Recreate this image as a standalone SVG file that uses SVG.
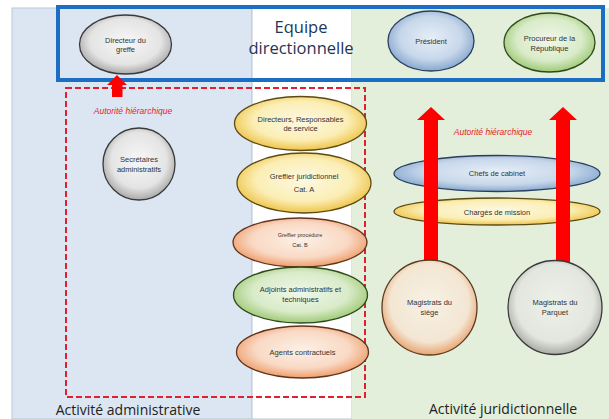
<svg xmlns="http://www.w3.org/2000/svg" width="609" height="419" viewBox="0 0 609 419">
<defs>
<radialGradient id="gGray" cx="50%" cy="45%" r="55%"><stop offset="0" stop-color="#f7f7f7"/><stop offset="0.7" stop-color="#e4e4e4"/><stop offset="1" stop-color="#a9a9a9"/></radialGradient>
<radialGradient id="gYel" cx="50%" cy="45%" r="55%"><stop offset="0" stop-color="#fdf8e2"/><stop offset="0.65" stop-color="#fbeeb5"/><stop offset="1" stop-color="#eec44a"/></radialGradient>
<radialGradient id="gOra" cx="50%" cy="45%" r="55%"><stop offset="0" stop-color="#fdf0e6"/><stop offset="0.65" stop-color="#f9d9c4"/><stop offset="1" stop-color="#ee9e6c"/></radialGradient>
<radialGradient id="gGrn" cx="50%" cy="45%" r="55%"><stop offset="0" stop-color="#f0f7ea"/><stop offset="0.65" stop-color="#d9ebc9"/><stop offset="1" stop-color="#9fca76"/></radialGradient>
<radialGradient id="gBlu" cx="50%" cy="45%" r="55%"><stop offset="0" stop-color="#e6eef7"/><stop offset="0.65" stop-color="#c7d7ea"/><stop offset="1" stop-color="#87a8ce"/></radialGradient>
<radialGradient id="gSiege" cx="50%" cy="45%" r="55%"><stop offset="0" stop-color="#f7f1e4"/><stop offset="0.75" stop-color="#f3e6d3"/><stop offset="1" stop-color="#e8a572"/></radialGradient>
<radialGradient id="gParq" cx="50%" cy="45%" r="55%"><stop offset="0" stop-color="#eef1ea"/><stop offset="0.75" stop-color="#e2e6de"/><stop offset="1" stop-color="#a9aca6"/></radialGradient>
</defs>
<style>
.lbl{font-family:"Liberation Sans",Arial,sans-serif;font-size:7.5px;fill:#333;text-anchor:middle}
.sm{font-size:5.5px}
.big{font-family:"Open Sans","Liberation Sans",sans-serif;font-size:14px;fill:#222;text-anchor:middle}
.eq{font-family:"Open Sans","Liberation Sans",sans-serif;font-size:16.5px;fill:#1f3555;text-anchor:middle}
.auth{font-family:"Liberation Sans",Arial,sans-serif;font-size:8.5px;font-style:italic;fill:#e8202a;text-anchor:middle}
.st{stroke-width:1.3}
.arrow{fill:#ff0000}
</style>
<rect width="609" height="419" fill="#ffffff"/>
<g id="panels">
<rect x="12" y="8" width="240" height="411" fill="#dce6f2" stroke="#b9c7d8" stroke-width="1"/>
<rect x="252" y="8" width="100" height="411" fill="#ffffff" stroke="#b9c7d8" stroke-width="1"/>
<rect x="352" y="8" width="257" height="411" fill="#e3eedb"/>
</g>
<g id="frame">
<rect x="58" y="7" width="545" height="73" fill="none" stroke="#1b6ec2" stroke-width="4"/>
<rect x="66" y="88" width="299" height="309" fill="none" stroke="#e0202f" stroke-width="2" stroke-dasharray="6,3"/>
</g>
<g id="equipe"><text class="eq" x="301" y="33">Equipe</text><text class="eq" x="301" y="54">directionnelle</text></g>
<g id="directeur-greffe"><ellipse cx="125.5" cy="44.5" rx="46" ry="29.5" fill="url(#gGray)" stroke="#3a3a3a" class="st"/><text class="lbl" x="125.5" y="42.5">Directeur du</text><text class="lbl" x="125.5" y="52">greffe</text></g>
<g id="president"><ellipse cx="431" cy="41" rx="43" ry="30" fill="url(#gBlu)" stroke="#2a3f5e" class="st"/><text class="lbl" x="431" y="44">Président</text></g>
<g id="procureur"><ellipse cx="549.5" cy="42.5" rx="45.5" ry="29.5" fill="url(#gGrn)" stroke="#2e4a1c" class="st"/><text class="lbl" x="549.5" y="41">Procureur de la</text><text class="lbl" x="549.5" y="50.5">République</text></g>
<g id="secretaires"><circle cx="139" cy="164" r="36" fill="url(#gGray)" stroke="#3a3a3a" class="st"/><text class="lbl" x="139" y="162">Secrétaires</text><text class="lbl" x="139" y="171.5">administratifs</text></g>
<g id="directeurs"><ellipse cx="300.5" cy="123.5" rx="66" ry="27" fill="url(#gYel)" stroke="#5c4a12" class="st"/><text class="lbl" x="300.5" y="121.5">Directeurs, Responsables</text><text class="lbl" x="300.5" y="131">de service</text></g>
<g id="greffier-juridictionnel"><ellipse cx="304" cy="183" rx="67" ry="30" fill="url(#gYel)" stroke="#5c4a12" class="st"/><text class="lbl" x="304" y="179">Greffier juridictionnel</text><text class="lbl" x="304" y="191.5">Cat. A</text></g>
<g id="greffier-procedure"><ellipse cx="300" cy="242.5" rx="67" ry="24.5" fill="url(#gOra)" stroke="#60331c" class="st"/><text class="lbl sm" x="300" y="237">Greffier procédure</text><text class="lbl sm" x="300" y="247">Cat. B</text></g>
<g id="adjoints"><ellipse cx="300.5" cy="295" rx="67" ry="28" fill="url(#gGrn)" stroke="#2e4a1c" class="st"/><text class="lbl" x="300.5" y="292">Adjoints administratifs et</text><text class="lbl" x="300.5" y="301.5">techniques</text></g>
<g id="agents"><ellipse cx="302.5" cy="352" rx="66" ry="26" fill="url(#gOra)" stroke="#60331c" class="st"/><text class="lbl" x="302.5" y="354.5">Agents contractuels</text></g>
<g id="chefs-cabinet"><ellipse cx="497" cy="173.5" rx="103" ry="18" fill="url(#gBlu)" stroke="#2a3f5e" class="st"/><text class="lbl" x="497" y="176">Chefs de cabinet</text></g>
<g id="charges-mission"><ellipse cx="497" cy="211.5" rx="103" ry="13.5" fill="url(#gYel)" stroke="#5c4a12" class="st"/><text class="lbl" x="497" y="214.5">Chargés de mission</text></g>
<g id="connectors">
<polygon class="arrow" points="117,75 127,85 122.5,85 122.5,97 112,97 112,85 107,85"/>
<polygon class="arrow" points="431,107 445,120 438,120 438,262 424,262 424,120 417,120"/>
<polygon class="arrow" points="563,107 577,120 570,120 570,262 556,262 556,120 549,120"/>
</g>
<g id="auth-labels"><text class="auth" x="133" y="114">Autorité hiérarchique</text><text class="auth" x="493" y="135">Autorité hiérarchique</text></g>
<g id="magistrats-siege"><circle cx="429.5" cy="307.5" r="47.5" fill="url(#gSiege)" stroke="#5a3a20" class="st"/><text class="lbl" x="429.5" y="305">Magistrats du</text><text class="lbl" x="429.5" y="314.5">siège</text></g>
<g id="magistrats-parquet"><circle cx="555" cy="307.5" r="47" fill="url(#gParq)" stroke="#3a3a3a" class="st"/><text class="lbl" x="555" y="305">Magistrats du</text><text class="lbl" x="555" y="314.5">Parquet</text></g>
<g id="footer"><text class="big" x="128" y="415">Activité administrative</text><text class="big" x="503" y="414">Activité juridictionnelle</text></g>
</svg>
